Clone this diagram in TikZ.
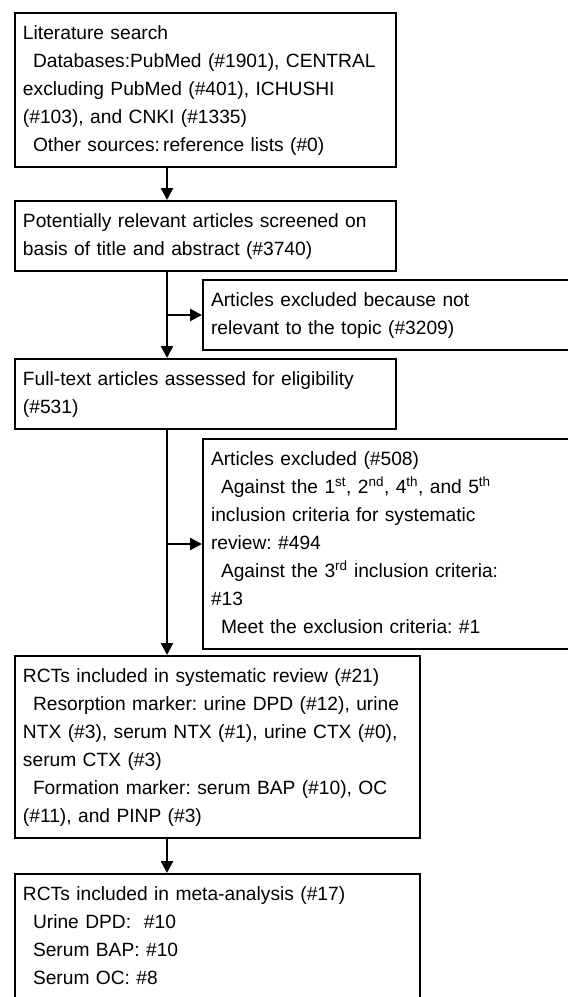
\documentclass[tikz,border=0pt]{standalone}
\usepackage{fontspec}
\setmainfont{Liberation Sans}
\usetikzlibrary{arrows.meta}
\tikzset{>={Triangle[length=12pt,width=12pt]}}
\tikzset{box/.style = {draw,line width=2pt,anchor=north west,align=left,inner xsep=8pt,inner ysep=7pt,
  font=\fontsize{19.2}{28}\selectfont\frenchspacing,execute at begin node=\strut,execute at end node=\strut}}
\tikzset{arr/.style = {->,line width=2.5pt}}
\newcommand{\indnt}{\hspace*{10pt}}

\begin{document}
\begin{tikzpicture}[x=1pt,y=-1pt]
  \useasboundingbox (0,0) rectangle (568,997);
  \coordinate (spine) at (167,0);

  \node[box,text width=365pt] (Ls) at (14,12) {Literature search\\
    \indnt Databases:PubMed (\#1901), CENTRAL\\
    excluding PubMed (\#401), ICHUSHI\\
    (\#103), and CNKI (\#1335)\\
    \indnt Other sources:\,reference lists (\#0)};
  \node[box,text width=365pt] (Sc) at (14,200) {Potentially relevant articles screened on\\
    basis of title and abstract (\#3740)};
  \node[box,text width=350pt] (Ex1) at (202,279) {Articles excluded because not\\
    relevant to the topic (\#3209)};
  \node[box,text width=365pt] (Ft) at (14,358) {Full-text articles assessed for eligibility\\
    (\#531)};
  \node[box,text width=350pt] (Ex2) at (202,438) {Articles excluded (\#508)\\
    \indnt Against the 1\textsuperscript{st}, 2\textsuperscript{nd}, 4\textsuperscript{th}, and 5\textsuperscript{th}\\
    inclusion criteria for systematic\\
    review: \#494\\
    \indnt Against the 3\textsuperscript{rd} inclusion criteria:\\
    \#13\\
    \indnt Meet the exclusion criteria: \#1};
  \node[box,text width=389pt] (Sr) at (14,655) {RCTs included in systematic review (\#21)\\
    \indnt Resorption marker: urine DPD (\#12), urine\\
    NTX (\#3), serum NTX (\#1), urine CTX (\#0),\\
    serum CTX (\#3)\\
    \indnt Formation marker: serum BAP (\#10), OC\\
    (\#11), and PINP (\#3)};
  \node[box,text width=389pt] (Ma) at (14,873) {RCTs included in meta-analysis (\#17)\\
    \indnt Urine DPD:\ \ \#10\\
    \indnt Serum BAP: \#10\\
    \indnt Serum OC: \#8};

  \draw[arr] (Ls.south -| spine) -- (Sc.north -| spine);
  \draw[arr] (Sc.south -| spine) -- (Ft.north -| spine);
  \draw[arr] (spine |- Ex1.west) -- (Ex1.west);
  \draw[arr] (Ft.south -| spine) -- (Sr.north -| spine);
  \draw[arr] (spine |- Ex2.west) -- (Ex2.west);
  \draw[arr] (Sr.south -| spine) -- (Ma.north -| spine);
\end{tikzpicture}
\end{document}
